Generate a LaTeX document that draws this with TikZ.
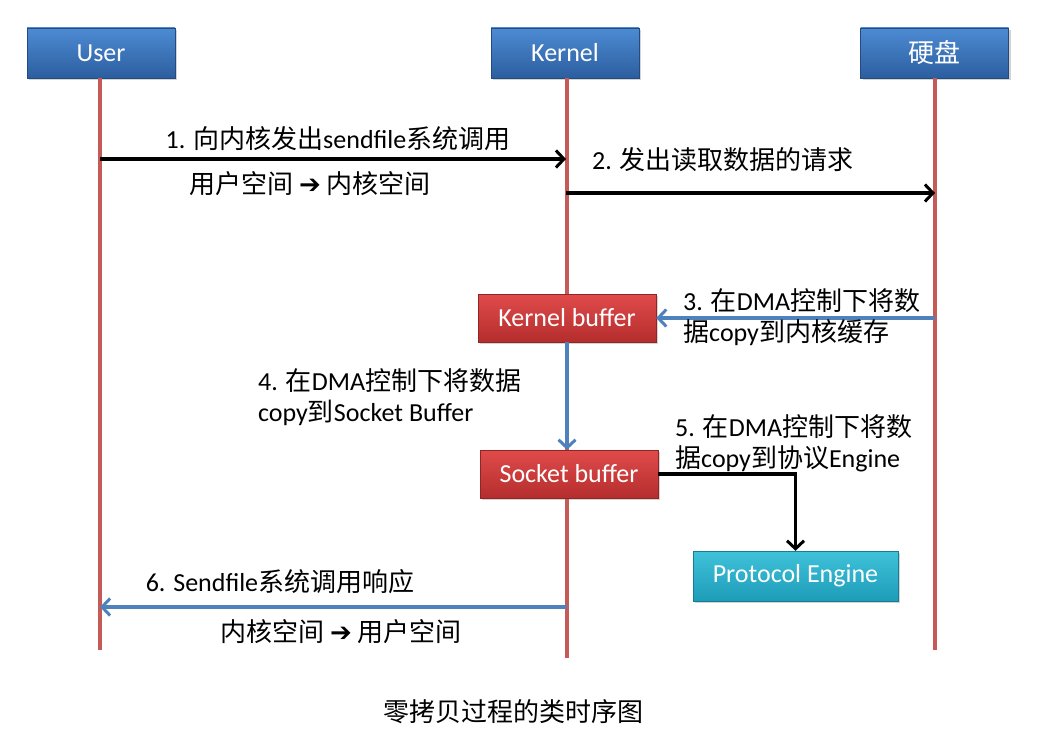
\documentclass[tikz,border=0pt]{standalone}
\usepackage{fontspec}
\setmainfont{Carlito}
\newfontfamily\cjk{Noto Sans CJK SC}
\newfontfamily\symf{DejaVu Sans}
\usepackage{tikz}
\usetikzlibrary{arrows.meta, positioning, shadows}

\newcommand{\zh}[1]{{\cjk #1}}
\newcommand{\goes}{{\symf ➔}}

\definecolor{lifered}{HTML}{C55A57}
\definecolor{msgblue}{HTML}{4F81BD}
\definecolor{hdtop}{HTML}{4D8BD3}
\definecolor{hdbot}{HTML}{2C5E9F}
\definecolor{bftop}{HTML}{E04B4B}
\definecolor{bfbot}{HTML}{B52D2D}
\definecolor{petop}{HTML}{40C2DA}
\definecolor{pebot}{HTML}{1D9CB8}

\tikzset{
	box/.style={rectangle, minimum height=50pt, text=white,
		font=\fontsize{26}{30}\selectfont,
		drop shadow={shadow xshift=2pt, shadow yshift=-2pt, opacity=0.35}},
	actor/.style={box, minimum width=148pt, top color=hdtop, bottom color=hdbot, draw=hdbot!80!black},
	buffer/.style={box, minimum width=178pt, minimum height=48pt, top color=bftop, bottom color=bfbot, draw=bfbot!80!black},
	engine/.style={box, minimum width=205pt, top color=petop, bottom color=pebot, draw=pebot!80!black},
	life/.style={draw=lifered, line width=3.2pt},
	msg/.style={->, line width=3.6pt},
	back/.style={->, draw=msgblue, line width=3.6pt},
	lbl/.style={inner sep=0pt, font=\fontsize{26}{31}\selectfont}
}

\begin{document}
\begin{tikzpicture}[x=1pt, y=-1pt,
		>={Straight Barb[length=8pt, width=17pt, line width=3pt]}]

	\useasboundingbox (0,0) rectangle (1046,746);

	% heads
	\node[actor] (user) at (101,53) {User};
	\node[actor] (kernel) at (565,53) {Kernel};
	\node[actor] (disk) at (934.5,53) {\zh{硬盘}};

	% lifelines
	\coordinate (userend) at (100,650);
	\coordinate (kernelend) at (567,658);
	\coordinate (diskend) at (935,650);
	\draw[life] (user.south -| userend) -- (userend);
	\draw[life] (kernel.south -| kernelend) -- (kernelend);
	\draw[life] (disk.south -| diskend) -- (diskend);

	% buffers
	\node[buffer] (kbuf) at (567,318) {Kernel buffer};
	\node[buffer] (sbuf) at (569,474) {Socket buffer};
	\node[engine] (pe) at (795.5,576) {Protocol Engine};

	% points on the lifelines
	\coordinate (u1) at (100,159);
	\coordinate (k1) at (566,159);
	\coordinate (k2) at (566,193);
	\coordinate (d2) at (935,193);
	\coordinate (d3) at (935,318);
	\coordinate (k6) at (567,607);
	\coordinate (u6) at (100,607);

	% messages
	\draw[msg] (u1) -- (k1);
	\draw[msg] (k2) -- (d2);
	\draw[back] (d3) -- (kbuf.east);
	\draw[back] (kbuf.south) -- (kbuf.south |- sbuf.north);
	\draw[msg] (sbuf.east) -| (pe.north);
	\draw[back] (k6) -- (u6);

	% labels
	\node[lbl] (t1) at (338,139) {1. \zh{向内核发出}sendfile\zh{系统调用}};
	\node[lbl] (t1b) at (310,184) {\zh{用户空间} \goes{} \zh{内核空间}};
	\node[lbl, anchor=west] (t2) at (592,160) {2. \zh{发出读取数据的请求}};
	\node[lbl, anchor=west, align=left] (t3) at (683,317) {3. \zh{在}DMA\zh{控制下将数}\\\zh{据}copy\zh{到内核缓存}};
	\node[lbl, anchor=west, align=left] (t4) at (258,397) {4. \zh{在}DMA\zh{控制下将数据}\\copy\zh{到}Socket Buffer};
	\node[lbl, anchor=west, align=left] (t5) at (675,443) {5. \zh{在}DMA\zh{控制下将数}\\\zh{据}copy\zh{到协议}Engine};
	\node[lbl] (t6) at (280,582) {6. Sendfile\zh{系统调用响应}};
	\node[lbl] (t6b) at (341,632) {\zh{内核空间} \goes{} \zh{用户空间}};
	\node[lbl] (caption) at (513,712) {\zh{零拷贝过程的类时序图}};

\end{tikzpicture}
\end{document}
